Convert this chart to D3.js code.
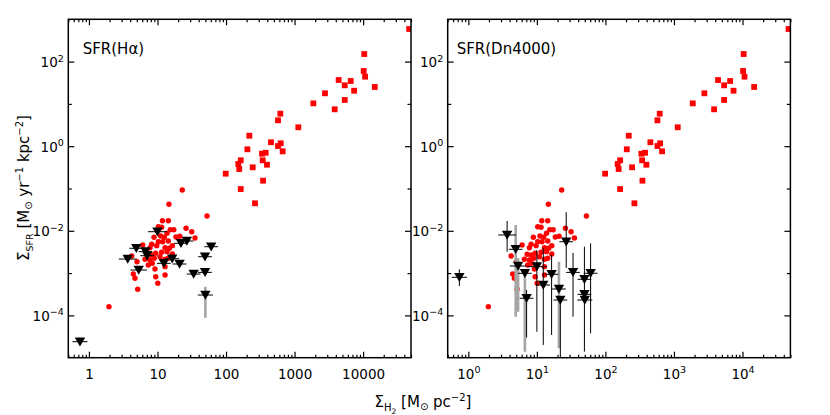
<!DOCTYPE html>
<html>
<head>
<meta charset="utf-8">
<script src="https://cdn.jsdelivr.net/npm/d3@7"></script>
<style>
  body { margin: 0; background: #fff; }
  svg text { font-family: 'DejaVu Sans', sans-serif; fill: #000; }
</style>
</head>
<body>
<div id="chart-area"></div>
<script>
const chartSize = { width: 830, height: 415 };
const plot = { top: 19.3, width: 342.7, height: 338.4 };
const panelLeft = [68.3, 447.7];

const xDomain = [0.5, 5e4];
const yDomain = [1e-5, 1e3];
const xMajor = [1, 10, 100, 1000, 10000];
const xLabelsLin = ['1', '10', '100', '1000', '10000'];
const xLabelsExp = ['0', '1', '2', '3', '4'];
const yMajor = [1e-4, 1e-2, 1, 1e2];
const yLabelsExp = ['−4', '−2', '0', '2'];
const yMinor = [1e-3, 1e-1, 10];
const panelNames = ['SFR(Hα)', 'SFR(Dn4000)'];

// red squares (same in both panels)
const sqX = [47000, 10400, 10200, 10700, 4400, 6600, 5400, 14800, 7400, 2780, 5400, 1880, 3850, 620, 574, 1135, 219,
  453, 628, 574, 205, 671, 335, 379, 164, 343, 151, 396, 156, 245, 99, 347, 164, 265];
const sqY = [590, 151, 60, 44, 36.7, 34.8, 27.5, 25.1, 20.5, 17.8, 12.4, 10.3, 7.45, 5.87, 4.09, 2.80, 1.77,
  1.24, 1.17, 1.01, 0.845, 0.757, 0.665, 0.70, 0.464, 0.464, 0.379, 0.365, 0.289, 0.317, 0.224, 0.153, 0.097, 0.0447];

// red circles (same in both panels)
const circX = [14.7, 11.8, 14.4, 10.3, 11.5, 15.4, 17.3, 26.1, 31.6, 13.8, 8.9, 11.1, 12.6, 18.6, 21.1, 35.3, 8.24,
  10.3, 11.9, 14.4, 16.5, 6.09, 7.78, 9.75, 12.9, 14.9, 4.21, 7.2, 8.24, 9.42, 11.5, 13.8, 16.5, 6.58, 7.78, 8.99,
  10.9, 12.9, 14.4, 7.35, 8.41, 12.9, 5.03, 9.2, 4.44, 4.7, 12.9, 9.42, 10.1, 5.15, 52.8, 23.0, 1.96];
const circY = [0.0423, 0.0173, 0.0173, 0.0125, 0.0121, 0.0106, 0.0106, 0.0115, 0.00952, 0.00873, 0.00702, 0.00754,
  0.00702, 0.00713, 0.00741, 0.00676, 0.0048, 0.00552, 0.00552, 0.00574, 0.00445, 0.00462, 0.00398, 0.00445, 0.00398,
  0.00386, 0.00254, 0.00278, 0.00268, 0.00294, 0.0031, 0.00321, 0.00283, 0.00212, 0.00204, 0.00224, 0.00244, 0.00212,
  0.00224, 0.00155, 0.0017, 0.00142, 0.00186, 0.00125, 0.00095, 0.000753, 0.000902, 0.000822, 0.000574, 0.000414,
  0.0224, 0.0922, 0.000161];

// upper limits (triangles)
const triX = [0.74, 3.68, 4.91, 5.32, 6.69, 7.08, 10.0, 12.4, 16.4, 21.0, 22.0, 26.8, 33.7, 49.4, 49.4, 60.8, 50.0];
const triXErr = [0.11, 0.13, 0.1, 0.12, 0.1, 0.1, 0.14, 0.1, 0.1, 0.1, 0.1, 0.1, 0.1, 0.1, 0.1, 0.1, 0.11];
const haY = [2.39e-5, 0.00215, 0.00386, 0.00118, 0.00321, 0.00258, 0.00952, 0.0017, 0.00219, 0.00164, 0.00506,
  0.00574, 0.00095, 0.00244, 0.00104, 0.00421, 0.000303];
const haLo = [null, null, null, null, null, null, null, null, null, null, null, null, null, null, null, null, 8.8e-5];
const haHi = [null, null, null, null, null, null, null, null, null, null, null, null, null, null, null, null, 4.77e-4];
const haGray = [0, 0, 0, 0, 0, 0, 0, 0, 0, 0, 0, 0, 0, 0, 0, 0, 1];
const dnY = [0.000796, 0.00796, 0.00365, 0.00147, 0.00099, 0.000254, 0.00142, 0.000523, 0.000937, 0.000421, 0.000231,
  0.00552, 0.00104, 0.000713, 0.000315, 0.00099, 0.000231];
const dnLo = [4.95e-4, 0.00321, 9.3e-5, 1.22e-4, 1.39e-5, 3e-5, 4.1e-5, 2.0e-5, 3.44e-5, 1.67e-5, 1e-5,
  0.00132, 9.3e-5, 1.39e-5, null, 3.77e-5, null];
const dnHi = [0.00123, 0.0171, 0.0137, 0.00228, 0.00099, 0.0004, 0.0035, 0.00386, 0.00268, 0.00186, 0.000231,
  0.0275, 0.00299, 0.00421, null, 0.00506, null];
const dnGray = [0, 0, 1, 1, 1, 0, 0, 0, 0, 1, 0, 0, 0, 0, 0, 0, 0];

const x = d3.scaleLog().domain(xDomain).range([0, plot.width]);
const y = d3.scaleLog().domain(yDomain).range([plot.height, 0]);
const xMinor = x.ticks().filter(v => !xMajor.some(m => Math.abs(m - v) < 1e-9 * m));

const writePow = (text, exps) => text.each(function (d, i) {
  const t = d3.select(this).text(null);
  t.append('tspan').text('10');
  t.append('tspan').attr('dy', -5.5).attr('font-size', 9.5).text(exps[i]);
});

// text made of pieces with sub/superscripts: [string, baseline shift, font size]
const writePieces = (text, pieces, baseSize) => {
  let prev = 0;
  pieces.forEach(([s, shift, size]) => {
    text.append('tspan')
      .attr('dy', shift - prev)
      .attr('font-size', size || baseSize)
      .text(s);
    prev = shift;
  });
};

const styleAxis = (g) => {
  g.select('.domain').remove();
  g.selectAll('.tick line').attr('stroke', '#000').attr('stroke-width', 1.2);
  g.attr('font-size', 13.5);
};

const drawAxes = (g, p) => {
  const bottom = g.append('g').attr('transform', `translate(0,${plot.height})`)
    .call(d3.axisBottom(x).tickValues(xMajor).tickSize(-6).tickSizeOuter(0)
      .tickFormat((d, i) => xLabelsLin[i]));
  styleAxis(bottom);
  bottom.selectAll('text').attr('dy', null).attr('y', 21.3);
  if (p === 1) writePow(bottom.selectAll('text'), xLabelsExp);

  g.append('g').attr('transform', `translate(0,${plot.height})`)
    .call(d3.axisBottom(x).tickValues(xMinor).tickSize(-3).tickSizeOuter(0).tickFormat(''))
    .call(styleAxis);
  g.append('g')
    .call(d3.axisTop(x).tickValues(xMajor).tickSize(-6).tickSizeOuter(0).tickFormat(''))
    .call(styleAxis);
  g.append('g')
    .call(d3.axisTop(x).tickValues(xMinor).tickSize(-3).tickSizeOuter(0).tickFormat(''))
    .call(styleAxis);

  const left = g.append('g')
    .call(d3.axisLeft(y).tickValues(yMajor).tickSize(-6).tickSizeOuter(0).tickPadding(4.5));
  styleAxis(left);
  left.selectAll('text').attr('dy', null);
  writePow(left.selectAll('text'), yLabelsExp);
  left.selectAll('text tspan:first-child').attr('dy', 5);

  g.append('g')
    .call(d3.axisLeft(y).tickValues(yMinor).tickSize(-3.5).tickSizeOuter(0).tickFormat(''))
    .call(styleAxis);
  g.append('g').attr('transform', `translate(${plot.width},0)`)
    .call(d3.axisRight(y).tickValues(yMajor).tickSize(-6).tickSizeOuter(0).tickFormat(''))
    .call(styleAxis);
  g.append('g').attr('transform', `translate(${plot.width},0)`)
    .call(d3.axisRight(y).tickValues(yMinor).tickSize(-3.5).tickSizeOuter(0).tickFormat(''))
    .call(styleAxis);

  g.append('rect')
    .attr('width', plot.width).attr('height', plot.height)
    .attr('fill', 'none').attr('stroke', '#000').attr('stroke-width', 1.5);
};

const drawPanel = (svg, p, triY, lo, hi, gray) => {
  const g = svg.append('g').attr('transform', `translate(${panelLeft[p]},${plot.top})`);

  g.append('clipPath').attr('id', `clip${p}`)
    .append('rect').attr('width', plot.width).attr('height', plot.height);
  const marks = g.append('g').attr('clip-path', `url(#clip${p})`);

  marks.selectAll('.sq').data(sqX).join('rect')
    .attr('class', 'sq')
    .attr('x', (d) => x(d) - 2.9)
    .attr('y', (d, i) => y(sqY[i]) - 2.9)
    .attr('width', 5.8).attr('height', 5.8)
    .attr('fill', '#ff0000');

  marks.selectAll('.circ').data(circX).join('circle')
    .attr('class', 'circ')
    .attr('cx', (d) => x(d))
    .attr('cy', (d, i) => y(circY[i]))
    .attr('r', 2.7)
    .attr('fill', '#ff0000');

  const idx = d3.range(triX.length);
  const withV = idx.filter(i => lo[i] !== null);

  marks.selectAll('.vbar').data(withV).join('line')
    .attr('class', 'vbar')
    .attr('x1', (i) => x(triX[i])).attr('x2', (i) => x(triX[i]))
    .attr('y1', (i) => y(lo[i])).attr('y2', (i) => y(hi[i]))
    .attr('stroke', (i) => gray[i] ? '#a5a5a5' : '#000')
    .attr('stroke-width', (i) => gray[i] ? 2.6 : 1);

  marks.selectAll('.hbar').data(idx).join('line')
    .attr('class', 'hbar')
    .attr('x1', (i) => x(triX[i] / 10 ** triXErr[i]))
    .attr('x2', (i) => x(triX[i] * 10 ** triXErr[i]))
    .attr('y1', (i) => y(triY[i])).attr('y2', (i) => y(triY[i]))
    .attr('stroke', '#000').attr('stroke-width', 1);

  marks.selectAll('.tri').data(idx).join('path')
    .attr('class', 'tri')
    .attr('transform', (i) => `translate(${x(triX[i])},${y(triY[i])})`)
    .attr('d', 'M-5.2,-4.3L5.2,-4.3L0,4.7Z')
    .attr('fill', '#000');

  drawAxes(g, p);

  g.append('text')
    .attr('x', p === 0 ? 14.4 : 9)
    .attr('y', 35.2)
    .attr('font-size', 15)
    .text(panelNames[p]);
};

const initChart = () => {
  const svg = d3.select('#chart-area').append('svg')
    .attr('width', chartSize.width)
    .attr('height', chartSize.height);

  drawPanel(svg, 0, haY, haLo, haHi, haGray);
  drawPanel(svg, 1, dnY, dnLo, dnHi, dnGray);

  const xt = svg.append('text')
    .attr('x', 423).attr('y', 406.5)
    .attr('text-anchor', 'middle')
    .attr('font-size', 15);
  writePieces(xt, [['Σ', 0], ['H', 4, 10], ['2', 7, 7.5], [' [M', 0], ['⊙', 3, 10], [' pc', 0], ['−2', -6, 10], [']', 0]], 15);

  const yt = svg.append('text')
    .attr('transform', 'translate(29,188) rotate(-90)')
    .attr('text-anchor', 'middle')
    .attr('font-size', 15);
  writePieces(yt, [['Σ', 0], ['SFR', 4, 9.5], [' [M', 0], ['⊙', 3, 10], [' yr', 0], ['−1', -6, 10], [' kpc', 0],
    ['−2', -6, 10], [']', 0]], 15);
};

window.onload = initChart;
</script>
</body>
</html>
